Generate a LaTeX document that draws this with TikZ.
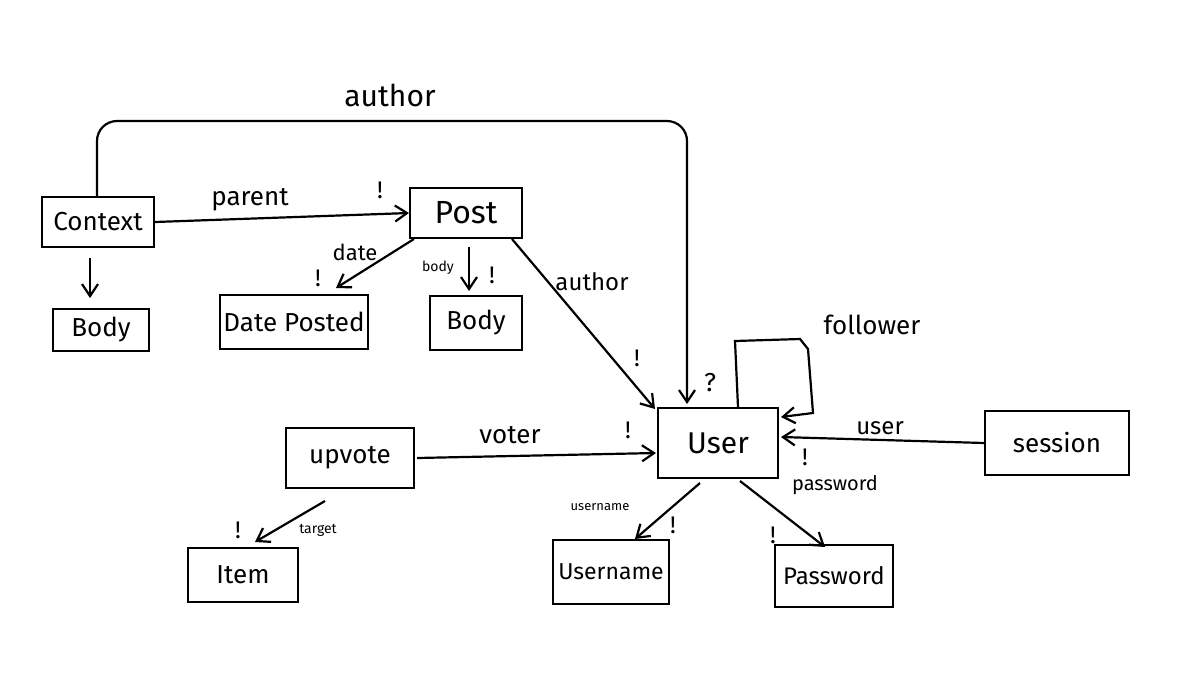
\documentclass[tikz,border=0pt]{standalone}
\usepackage{fontspec}
\setmainfont{Fira Sans}
\usetikzlibrary{arrows.meta,calc}
\newcommand{\fs}[1]{\fontsize{#1}{#1}\selectfont}
\begin{document}
\begin{tikzpicture}[x=0.5pt,y=-0.5pt,
  box/.style={draw,line width=1pt,inner sep=0pt,font=\fs{13}},
  arr/.style={line width=1.1pt,-{Straight Barb[length=6pt,width=8pt]}},
  lbl/.style={inner sep=0pt,font=\fs{13}},
  bang/.style={inner sep=0pt,font=\fs{12}}]
\useasboundingbox (0,0) rectangle (1183,697);
% boxes
\node[box,minimum width=56pt,minimum height=25pt] (context) at (98,222) {Context};
\node[box,minimum width=48pt,minimum height=21pt] (bodyl) at (101,330) {Body};
\node[box,minimum width=56pt,minimum height=25pt,font=\fs{16}] (post) at (466,213) {Post};
\node[box,minimum width=74pt,minimum height=27pt] (date) at (294,322) {Date Posted};
\node[box,minimum width=46pt,minimum height=27pt] (bodyr) at (476,323) {Body};
\node[box,minimum width=60pt,minimum height=35pt,font=\fs{15}] (user) at (718,443) {User};
\node[box,minimum width=64pt,minimum height=30pt] (upvote) at (350,458) {upvote};
\node[box,minimum width=55pt,minimum height=27pt] (item) at (243,575) {Item};
\node[box,minimum width=58pt,minimum height=32pt,font=\fs{11.5}] (username) at (611,572) {Username};
\node[box,minimum width=59pt,minimum height=31pt,font=\fs{12}] (password) at (834,576) {Password};
\node[box,minimum width=72pt,minimum height=32pt] (session) at (1057,443) {session};
% connectors
\draw[arr,rounded corners=10pt] ($(context.north)+(-1,0)$) |- ($(user.north)+(-31,-286)$) -- ($(user.north)+(-31,-3)$);
\draw[arr] (context.east) -- (post.west);
\draw[arr] ($(context.south)+(-8,10)$) -- ($(bodyl.north)+(-11,-10)$);
\draw[arr] ($(post.south west)+(5,0)$) -- ($(date.north east)+(-33,-6)$);
\draw[arr] ($(post.south)+(3,8)$) -- ($(bodyr.north)+(-7,-4)$);
\draw[arr] ($(post.south east)+(-11,0)$) -- ($(user.north west)+(-2,2)$);
\draw[arr] ($(upvote.east)+(2,0)$) -- ($(user.west)+(-1,10)$);
\draw[arr] (session.west) -- ($(user.east)+(2,-6)$);
\draw[arr] ($(user.north)+(20,0)$) -- ($(user.north)+(17,-66)$) -- ($(user.north)+(82,-68)$) -- ($(user.north)+(90,-58)$) -- ($(user.north)+(95,6)$) -- ($(user.north east)+(2,10)$);
\draw[arr] ($(upvote.south)+(-25,12)$) -- ($(item.north)+(12,-5)$);
\draw[arr] ($(user.south)+(-18,4)$) -- ($(username.north)+(24,0)$);
\draw[arr] ($(user.south)+(22,2)$) -- ($(password.north)+(-9,3)$);
% labels
\node[lbl,font=\fs{15}] (lauthor1) at (390,95) {author};
\node[lbl] (lparent) at (250,200) {parent};
\node[lbl,font=\fs{11}] (ldate) at (355,252) {date};
\node[lbl,font=\fs{7}] (lbody) at (438,268) {body};
\node[lbl,font=\fs{12}] (lauthor2) at (592,282) {author};
\node[lbl] (lfollower) at (872,325) {follower};
\node[lbl,font=\fs{12}] (luser) at (880,428) {user};
\node[lbl,font=\fs{10}] (lpassword) at (835,485) {password};
\node[lbl] (lvoter) at (510,435) {voter};
\node[lbl,font=\fs{7}] (ltarget) at (318,530) {target};
\node[lbl,font=\fs{6.5}] (lusername) at (600,507) {username};
\node[bang] (b1) at (380,190) {!};
\node[bang] (b2) at (318,278) {!};
\node[bang] (b3) at (492,275) {!};
\node[bang] (b4) at (637,358) {!};
\node[bang,font=\fs{13}] (q1) at (710,383) {?};
\node[bang] (b5) at (805,457) {!};
\node[bang] (b6) at (628,430) {!};
\node[bang] (b7) at (238,530) {!};
\node[bang] (b8) at (673,525) {!};
\node[bang] (b9) at (773,535) {!};
\end{tikzpicture}
\end{document}
